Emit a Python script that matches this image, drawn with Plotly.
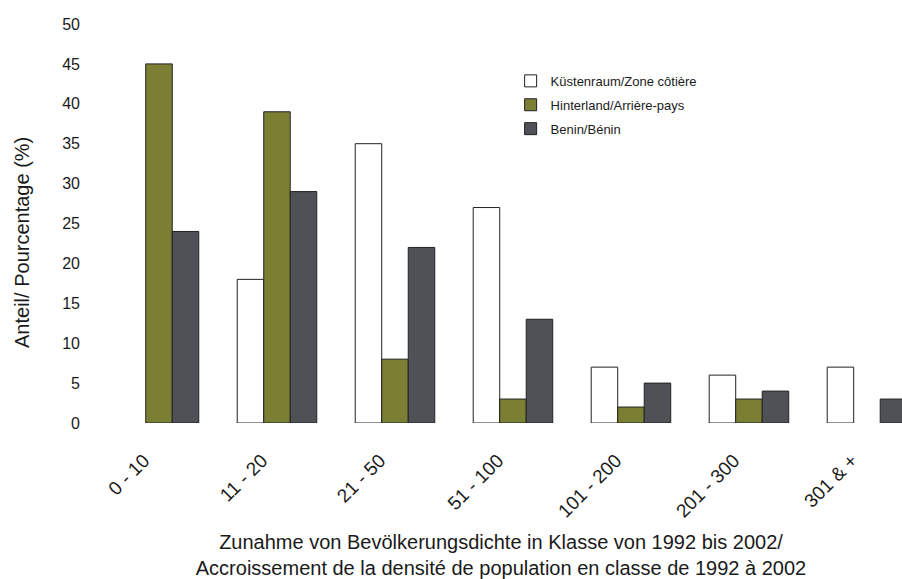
import plotly.graph_objects as go

categories = ["0 - 10", "11 - 20", "21 - 50", "51 - 100", "101 - 200", "201 - 300", "301 & +"]
kuestenraum = [0, 18, 35, 27, 7, 6, 7]
hinterland = [45, 39, 8, 3, 2, 3, 0]
benin = [24, 29, 22, 13, 5, 4, 3]
y_ticks = [0, 5, 10, 15, 20, 25, 30, 35, 40, 45, 50]

FONT = "Liberation Sans, Arial, sans-serif"
TXT = "#1a1a1a"
EDGE = "#222222"


def shown(values):
    # zero-height bars are not drawn at all in the reference
    return [v if v != 0 else None for v in values]


fig = go.Figure()
fig.add_trace(go.Bar(name="Küstenraum/Zone côtière", x=categories, y=shown(kuestenraum), legendgroup="k",
                     marker=dict(color="#ffffff", line=dict(color=EDGE, width=1))))
fig.add_trace(go.Bar(name="Hinterland/Arrière-pays", x=categories, y=shown(hinterland), legendgroup="h",
                     marker=dict(color="#7a7f34", line=dict(color=EDGE, width=1))))
fig.add_trace(go.Bar(name="Benin/Bénin", x=categories, y=shown(benin), legendgroup="b",
                     marker=dict(color="#4f5156", line=dict(color=EDGE, width=1))))

fig.update_layout(
    width=902, height=579,
    margin=dict(l=100, r=0, t=24, b=156),
    paper_bgcolor="white", plot_bgcolor="white",
    barmode="group", bargap=0.326, bargroupgap=0,
    font=dict(family=FONT, color=TXT, size=16),
    showlegend=True,
    legend=dict(x=0.512, y=0.895, xanchor="left", yanchor="top",
                font=dict(size=13, color=TXT), bgcolor="rgba(0,0,0,0)",
                itemwidth=30, tracegroupgap=4),
    xaxis=dict(range=[-0.5, 6.297], tickangle=-45, showline=False, showgrid=False,
               automargin=False,
               ticks="outside", ticklen=18, tickcolor="rgba(0,0,0,0)",
               ticklabelshift=-15,
               tickfont=dict(size=19, color=TXT),
               title=dict(text="Zunahme von Bevölkerungsdichte in Klasse von 1992 bis 2002/<br>Accroissement de la densité de population en classe de 1992 à 2002",
                          font=dict(size=20, color=TXT), standoff=14)),
    yaxis=dict(range=[0, 50], tickvals=y_ticks, showline=False, showgrid=False, zeroline=False,
               automargin=False,
               ticks="", ticklabelstandoff=19, tickfont=dict(size=16, color=TXT)),
    annotations=[dict(text="Anteil/ Pourcentage (%)", textangle=-90,
                      xref="paper", yref="paper", x=-0.0973, y=0.4536,
                      xanchor="center", yanchor="middle", showarrow=False,
                      font=dict(size=20, color=TXT))],
)

# remove the default page margin so the figure sits at the window's top-left corner
fig.write_html("out.html", config={"displayModeBar": False},
               post_script="document.body.style.margin='0';document.body.style.overflow='hidden';")
